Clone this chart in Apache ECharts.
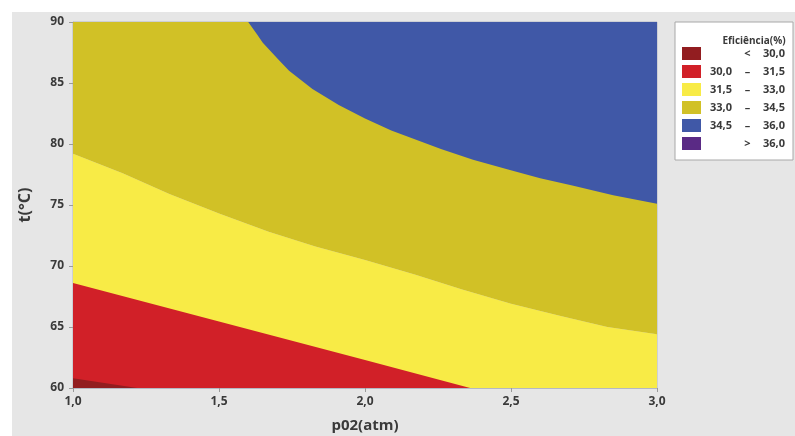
<!DOCTYPE html>
<html>
<head>
<meta charset="utf-8">
<script src="https://cdn.jsdelivr.net/npm/echarts@6/dist/echarts.min.js"></script>
<style>html,body{margin:0;padding:0;background:#fff}#c{width:795px;height:436px}</style>
</head>
<body>
<div id="c"></div>
<script>
// Contour boundaries: [p02(atm), t(°C)]
const boundary30 = [[1.0, 60.8], [1.22, 60.0]];                       // <30.0 | 30.0–31.5
const boundary315 = [[1.0, 68.6], [1.5, 65.45], [2.0, 62.3], [2.36, 60.0]]; // 30.0–31.5 | 31.5–33.0
const boundary33 = [[1.0, 79.2], [1.17, 77.6], [1.33, 75.9], [1.5, 74.3], [1.67, 72.8], [1.83, 71.6],
                    [2.0, 70.5], [2.17, 69.3], [2.33, 68.1], [2.5, 66.9], [2.67, 65.9], [2.83, 65.0], [3.0, 64.4]];
const boundary345 = [[1.60, 90.0], [1.63, 89.0], [1.65, 88.3], [1.70, 87.0], [1.74, 86.0], [1.82, 84.5],
                     [1.91, 83.2], [2.0, 82.1], [2.09, 81.1], [2.26, 79.6], [2.37, 78.7],
                     [2.49, 77.9], [2.6, 77.2], [2.71, 76.6], [2.85, 75.8], [3.0, 75.1]];

const legendNames = ['< 30,0', '30,0 – 31,5', '31,5 – 33,0', '33,0 – 34,5', '34,5 – 36,0', '> 36,0'];
const legendLow = ['', '30,0', '31,5', '33,0', '34,5', ''];
const legendOp = ['<', '–', '–', '–', '–', '>'];
const legendHigh = ['30,0', '31,5', '33,0', '34,5', '36,0', '36,0'];
const colors = ['#921d20', '#d12028', '#f8eb46', '#d1c126', '#4058a7', '#5a2a85'];
const xTicks = {min: 1, max: 3, interval: 0.5};
const yTicks = {min: 60, max: 90, interval: 5};

const FONT = '"Open Sans", "Noto Sans", sans-serif';
const TXT = '#3a3a3a';
const chart = echarts.init(document.getElementById('c'), null, {renderer: 'canvas'});

function areaSeries(name, data, color, origin) {
  return {
    name: name, type: 'line', data: data, showSymbol: false, symbol: 'none',
    smooth: false, silent: true, clip: true,
    lineStyle: {width: 0, color: color, opacity: 0},
    itemStyle: {color: color},
    areaStyle: {color: color, opacity: 1, origin: origin}
  };
}

const richCell = (w, align) => ({width: w, align: align, fontFamily: FONT, fontSize: 11, fontWeight: 'bold', color: TXT, lineHeight: 13});

const option = {
  animation: false,
  backgroundColor: '#ffffff',
  textStyle: {fontFamily: FONT},
  graphic: [{
    type: 'rect', z: -10, silent: true,
    shape: {x: 12, y: 12, width: 783, height: 424},
    style: {fill: '#e6e6e6'}
  }],
  title: {
    text: 'Eficiência(%)', left: 749, top: 31, textAlign: 'center',
    textStyle: {fontFamily: FONT, fontSize: 10, fontWeight: 'bold', color: TXT}
  },
  grid: {
    left: 73, right: 138, top: 22, bottom: 48, show: true,
    containLabel: false, outerBoundsMode: 'none',
    borderColor: '#b4b8c4', borderWidth: 1, backgroundColor: 'transparent'
  },
  legend: {
    orient: 'vertical', left: 675, top: 22,
    padding: [25, 4, 10, 7],
    itemWidth: 19, itemHeight: 13, itemGap: 5,
    backgroundColor: '#ffffff', borderColor: '#a8a8a8', borderWidth: 1,
    icon: 'rect', selectedMode: false,
    data: legendNames.map((n, i) => ({name: n, icon: 'rect', itemStyle: {color: colors[i], borderWidth: 0, opacity: 1}})),
    formatter: function (name) {
      const i = legendNames.indexOf(name);
      return '{a|' + legendLow[i] + '}{b|' + legendOp[i] + '}{c|' + legendHigh[i] + '}';
    },
    textStyle: {
      fontFamily: FONT, fontSize: 11, fontWeight: 'bold', color: TXT,
      rich: {a: richCell(30, 'right'), b: richCell(23, 'center'), c: richCell(30, 'left')}
    }
  },
  xAxis: {
    type: 'value', min: xTicks.min, max: xTicks.max, interval: xTicks.interval,
    name: 'p02(atm)', nameLocation: 'middle', nameGap: 30,
    nameTextStyle: {fontFamily: FONT, fontSize: 15, fontWeight: 'bold', color: TXT},
    axisLine: {lineStyle: {color: '#b4b8c4'}},
    axisTick: {show: true, length: 4, lineStyle: {color: '#9a9a9a'}},
    axisLabel: {
      margin: 8, fontFamily: FONT, fontSize: 12, fontWeight: 'bold', color: TXT,
      formatter: v => v.toFixed(1).replace('.', ',')
    },
    splitLine: {show: false}
  },
  yAxis: {
    type: 'value', min: yTicks.min, max: yTicks.max, interval: yTicks.interval,
    name: 't(°C)', nameLocation: 'middle', nameGap: 40, nameRotate: 90,
    nameTextStyle: {fontFamily: FONT, fontSize: 16, fontWeight: 'bold', color: TXT},
    axisLine: {show: true, lineStyle: {color: '#b4b8c4'}},
    axisTick: {show: true, length: 4, lineStyle: {color: '#9a9a9a'}},
    axisLabel: {margin: 9, fontFamily: FONT, fontSize: 12, fontWeight: 'bold', color: TXT},
    splitLine: {show: false}
  },
  series: [
    areaSeries(legendNames[2], boundary33, colors[2], 'start'),
    areaSeries(legendNames[3], boundary33, colors[3], 'end'),
    areaSeries(legendNames[1], boundary315, colors[1], 'start'),
    areaSeries(legendNames[0], boundary30, colors[0], 'start'),
    areaSeries(legendNames[4], boundary345, colors[4], 'end'),
    areaSeries(legendNames[5], [], colors[5], 'end')
  ]
};
chart.setOption(option);
</script>
</body>
</html>
